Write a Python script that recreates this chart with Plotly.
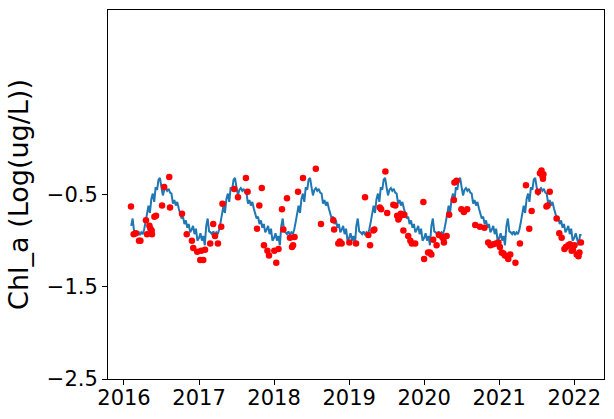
import plotly.graph_objects as go

# ---- data ----
years = [2016, 2017, 2018, 2019, 2020, 2021, 2022]
# weekly model values (week i -> day 7*i of the year)
line_2016 = [-0.84, -0.76, -0.90, -0.91, -0.93, -0.90, -0.94, -0.91, -0.93, -0.88, -0.80, -0.72, -0.62, -0.70, -0.55,
             -0.49, -0.58, -0.42, -0.45, -0.34, -0.32, -0.42, -0.51, -0.45, -0.43, -0.46, -0.44, -0.48, -0.49, -0.60,
             -0.56, -0.62, -0.58, -0.65, -0.70, -0.76, -0.74, -0.82, -0.78, -0.86, -0.82, -0.91, -0.88, -0.84, -0.93,
             -0.87, -1.00]
line_2017 = [-0.97, -0.92, -1.00, -0.95, -1.05, -0.84, -0.76, -0.90, -0.91, -0.93, -0.90, -0.94, -0.91, -0.93, -0.88,
             -0.80, -0.72, -0.62, -0.70, -0.55, -0.49, -0.58, -0.42, -0.45, -0.34, -0.32, -0.42, -0.51, -0.45, -0.43,
             -0.46, -0.44, -0.48, -0.49, -0.60, -0.56, -0.62, -0.58, -0.65, -0.70, -0.76, -0.74, -0.82, -0.78, -0.86,
             -0.82, -0.91, -0.88, -0.84, -0.93, -0.87, -1.00]
line_2018 = [-0.97, -0.92, -1.00, -0.95, -1.05, -0.84, -0.76, -0.90, -0.91, -0.93, -0.90, -0.94, -0.91, -0.93, -0.88,
             -0.80, -0.72, -0.62, -0.70, -0.55, -0.49, -0.58, -0.42, -0.45, -0.34, -0.32, -0.42, -0.51, -0.45, -0.43,
             -0.46, -0.44, -0.48, -0.49, -0.60, -0.56, -0.62, -0.58, -0.65, -0.70, -0.76, -0.74, -0.82, -0.78, -0.86,
             -0.82, -0.91, -0.88, -0.84, -0.93, -0.87, -1.00]
line_2019 = [-0.97, -0.92, -1.00, -0.95, -1.05, -0.84, -0.76, -0.90, -0.91, -0.93, -0.90, -0.94, -0.91, -0.93, -0.88,
             -0.80, -0.72, -0.62, -0.70, -0.55, -0.49, -0.58, -0.42, -0.45, -0.34, -0.32, -0.42, -0.51, -0.45, -0.43,
             -0.46, -0.44, -0.48, -0.49, -0.60, -0.56, -0.62, -0.58, -0.65, -0.70, -0.76, -0.74, -0.82, -0.78, -0.86,
             -0.82, -0.91, -0.88, -0.84, -0.93, -0.87, -1.00]
line_2020 = [-0.97, -0.92, -1.00, -0.95, -1.05, -0.84, -0.76, -0.90, -0.91, -0.93, -0.90, -0.94, -0.91, -0.93, -0.88,
             -0.80, -0.72, -0.62, -0.70, -0.55, -0.49, -0.58, -0.42, -0.45, -0.34, -0.32, -0.42, -0.51, -0.45, -0.43,
             -0.46, -0.44, -0.48, -0.49, -0.60, -0.56, -0.62, -0.58, -0.65, -0.70, -0.76, -0.74, -0.82, -0.78, -0.86,
             -0.82, -0.91, -0.88, -0.84, -0.93, -0.87, -1.00]
line_2021 = [-0.97, -0.92, -1.00, -0.95, -1.05, -0.84, -0.76, -0.90, -0.91, -0.93, -0.90, -0.94, -0.91, -0.93, -0.88,
             -0.80, -0.72, -0.62, -0.70, -0.55, -0.49, -0.58, -0.42, -0.45, -0.34, -0.32, -0.42, -0.51, -0.45, -0.43,
             -0.46, -0.44, -0.48, -0.49, -0.60, -0.56, -0.62, -0.58, -0.65, -0.70, -0.76, -0.74, -0.82, -0.78, -0.86,
             -0.82, -0.91, -0.88, -0.84, -0.93, -0.87, -1.00]
line_2022 = [-0.97, -0.92, -1.00, -1.05, -0.94, -0.94]
line_first_week = {2016: 5, 2017: 0, 2018: 0, 2019: 0, 2020: 0, 2021: 0, 2022: 0}

# observations (decimal year, value)
obs_t = [2016.093, 2016.129, 2016.160, 2016.200, 2016.219, 2016.293, 2016.307, 2016.339, 2016.352, 2016.369,
         2016.373, 2016.405, 2016.427, 2016.507, 2016.536, 2016.603, 2016.613, 2016.773, 2016.836, 2016.905,
         2016.923, 2016.976, 2017.016, 2017.056, 2017.029, 2017.080, 2017.149, 2017.189, 2017.213, 2017.252,
         2017.296, 2017.312, 2017.469, 2017.519, 2017.625, 2017.647, 2017.772, 2017.803, 2017.836, 2017.865,
         2017.911, 2017.932, 2018.003, 2018.029, 2018.059, 2018.105, 2018.123, 2018.172, 2018.212, 2018.239,
         2018.253, 2018.273, 2018.319, 2018.385, 2018.556, 2018.625, 2018.789, 2018.800, 2018.856, 2018.876,
         2018.900, 2019.003, 2019.092, 2019.212, 2019.256, 2019.279, 2019.323, 2019.336, 2019.409, 2019.427,
         2019.483, 2019.507, 2019.589, 2019.616, 2019.640, 2019.656, 2019.669, 2019.689, 2019.723, 2019.716,
         2019.736, 2019.787, 2019.816, 2019.836, 2019.880, 2019.989, 2019.999, 2020.052, 2020.076, 2020.096,
         2020.120, 2020.165, 2020.196, 2020.240, 2020.263, 2020.256, 2020.299, 2020.333, 2020.396, 2020.403,
         2020.432, 2020.496, 2020.529, 2020.573, 2020.680, 2020.743, 2020.803, 2020.853, 2020.883, 2020.920,
         2020.956, 2020.989, 2021.009, 2021.033, 2021.056, 2021.076, 2021.103, 2021.120, 2021.147, 2021.216,
         2021.276, 2021.356, 2021.400, 2021.432, 2021.516, 2021.543, 2021.563, 2021.576, 2021.589, 2021.583,
         2021.629, 2021.645, 2021.673, 2021.765, 2021.800, 2021.832, 2021.869, 2021.889, 2021.920, 2021.943,
         2021.965, 2021.983, 2022.003, 2022.032, 2022.056, 2022.069, 2022.089]
obs_v = [-0.63, -0.93, -0.92, -1.00, -1.00, -0.78, -0.93, -0.84, -0.87, -0.89,
         -0.93, -0.74, -0.73, -0.62, -0.42, -0.31, -0.64, -0.71, -0.93, -1.00,
         -1.08, -1.12, -1.21, -1.21, -1.11, -1.10, -1.03, -0.82, -0.95, -1.03,
         -0.85, -0.60, -0.44, -0.53, -0.32, -0.47, -0.87, -0.62, -0.43, -1.05,
         -1.11, -1.16, -1.11, -1.24, -1.09, -0.66, -0.88, -0.54, -0.97, -1.07,
         -1.05, -0.96, -0.47, -0.32, -0.22, -0.82, -0.78, -0.88, -1.03, -1.01,
         -1.03, -1.02, -1.03, -0.53, -0.94, -1.05, -0.89, -0.88, -0.64, -0.66,
         -0.25, -0.70, -0.61, -0.62, -0.73, -0.77, -0.75, -0.71, -0.89, -0.72,
         -0.72, -0.95, -1.00, -1.03, -1.03, -0.58, -1.20, -1.13, -1.13, -1.15,
         -0.99, -1.05, -0.94, -0.96, -1.02, -0.98, -0.95, -0.72, -0.56, -0.37,
         -0.35, -0.66, -0.69, -0.66, -0.83, -0.85, -0.86, -1.02, -1.05, -1.04,
         -1.03, -1.02, -1.07, -1.13, -1.14, -1.16, -1.17, -1.20, -1.15, -1.24,
         -1.03, -0.40, -0.87, -0.68, -0.47, -0.27, -0.24, -0.30, -0.28, -0.33,
         -0.63, -0.62, -0.47, -0.76, -0.92, -0.97, -1.09, -1.07, -1.05, -1.04,
         -1.11, -1.10, -1.05, -1.15, -1.17, -1.13, -1.02]

y_ticks = [-2.5, -1.5, -0.5]
y_title = "Chl_a (Log(ug/L))"

# ---- build line coordinates ----
line_by_year = {2016: line_2016, 2017: line_2017, 2018: line_2018, 2019: line_2019,
                2020: line_2020, 2021: line_2021, 2022: line_2022}
line_t, line_v = [], []
for yr in years:
    vals = line_by_year[yr]
    w0 = line_first_week[yr]
    for k, v in enumerate(vals):
        line_t.append(yr + 7 * (w0 + k) / 365.0)
        line_v.append(v)

fig = go.Figure()
fig.add_trace(go.Scatter(x=line_t, y=line_v, mode="lines",
                         line=dict(color="#1f77b4", width=2), showlegend=False))
fig.add_trace(go.Scatter(x=obs_t, y=obs_v, mode="markers",
                         marker=dict(color="red", size=6.5, line=dict(width=0)), showlegend=False))

fig.update_layout(
    width=614, height=419,
    margin=dict(l=108, r=10, t=10, b=40),
    paper_bgcolor="white", plot_bgcolor="white",
    font=dict(family="DejaVu Sans", size=21, color="black"),
)
fig.update_xaxes(range=[2015.787, 2022.396], tickvals=years, ticktext=[str(y) for y in years],
                 ticks="outside", ticklen=5, tickwidth=1, tickcolor="black",
                 showline=True, linecolor="black", linewidth=1, mirror=True,
                 showgrid=False, zeroline=False, tickfont=dict(size=21), automargin=False,
                 ticklabelstandoff=-5)
fig.update_yaxes(range=[-2.5, 1.5], tickvals=y_ticks, ticktext=["\u22122.5", "\u22121.5", "\u22120.5"],
                 ticks="outside", ticklen=5, tickwidth=1, tickcolor="black",
                 showline=True, linecolor="black", linewidth=1, mirror=True,
                 showgrid=False, zeroline=False, tickfont=dict(size=21), automargin=False,
                 title=dict(text=y_title, font=dict(size=27), standoff=10))

fig.write_html("out.html")
